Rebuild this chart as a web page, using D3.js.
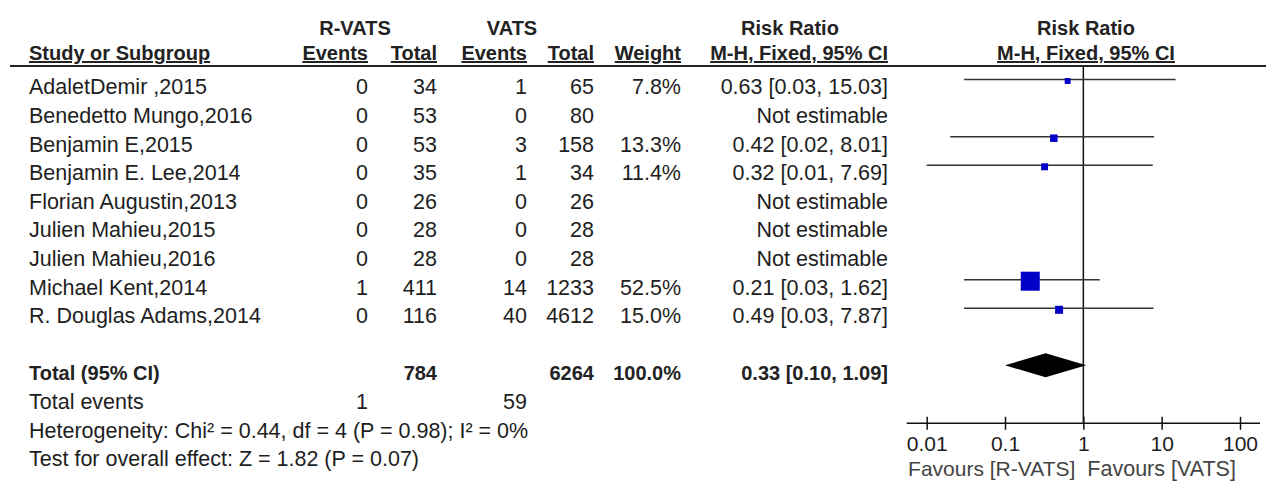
<!DOCTYPE html>
<meta charset="utf-8">
<style>
    body { margin: 0; background: #fff; }
    text {
        font-family: "Liberation Sans", Arial, sans-serif;
        font-size: 21.5px;
        fill: #1e1e1e;
    }
    .bold { font-weight: bold; font-size: 20px; fill: #222; }
    .ul { text-decoration: underline; }
</style>

<svg width="1266" height="481"></svg>

<script src="https://cdn.jsdelivr.net/npm/d3@7"></script>
<script>

    // DATA

    var studies = ["AdaletDemir ,2015", "Benedetto Mungo,2016", "Benjamin E,2015",
        "Benjamin E. Lee,2014", "Florian Augustin,2013", "Julien Mahieu,2015",
        "Julien Mahieu,2016", "Michael Kent,2014", "R. Douglas Adams,2014"];
    var rEvents = [0, 0, 0, 0, 0, 0, 0, 1, 0];
    var rTotal = [34, 53, 53, 35, 26, 28, 28, 411, 116];
    var vEvents = [1, 0, 3, 1, 0, 0, 0, 14, 40];
    var vTotal = [65, 80, 158, 34, 26, 28, 28, 1233, 4612];
    var weights = [7.8, null, 13.3, 11.4, null, null, null, 52.5, 15.0];
    var rr = [0.63, null, 0.42, 0.32, null, null, null, 0.21, 0.49];
    var ciLow = [0.03, null, 0.02, 0.01, null, null, null, 0.03, 0.03];
    var ciHigh = [15.03, null, 8.01, 7.69, null, null, null, 1.62, 7.87];

    var total = { rTotal: 784, vTotal: 6264, weight: 100.0, rr: 0.33, lo: 0.10, hi: 1.09,
        rEvents: 1, vEvents: 59 };
    var tickValues = [0.01, 0.1, 1, 10, 100];
    var tickLabels = ["0.01", "0.1", "1", "10", "100"];

    // SETUP

    var svg = d3.select("svg");
    var rowH = 28.6,
        firstBase = 94.3;

    function base(i) { return firstBase + i * rowH; }

    var col = { name: 29, rEv: 368, rTot: 437, vEv: 527, vTot: 594, weight: 681, ci: 888 };

    var x = d3.scaleLog().domain([0.01, 100]).range([926.7, 1240]);
    var side = d3.scaleLinear().domain([0, 52.5]).range([3.6, 19]);

    function txt(xp, yp, s, anchor, cls) {
        return svg.append("text")
            .attr("x", xp).attr("y", yp)
            .attr("text-anchor", anchor || "start")
            .attr("class", cls || null)
            .text(s);
    }

    // HEADER

    txt(355, 35, "R-VATS", "middle", "bold");
    txt(512, 35, "VATS", "middle", "bold");
    txt(790, 35, "Risk Ratio", "middle", "bold");
    txt(1086, 35, "Risk Ratio", "middle", "bold");

    var hy = 60;
    txt(col.name, hy, "Study or Subgroup", "start", "bold ul");
    txt(col.rEv, hy, "Events", "end", "bold ul");
    txt(col.rTot, hy, "Total", "end", "bold ul");
    txt(col.vEv, hy, "Events", "end", "bold ul");
    txt(col.vTot, hy, "Total", "end", "bold ul");
    txt(col.weight, hy, "Weight", "end", "bold ul");
    txt(col.ci, hy, "M-H, Fixed, 95% CI", "end", "bold ul");
    txt(1086, hy, "M-H, Fixed, 95% CI", "middle", "bold ul");

    svg.append("line")
        .attr("x1", 10).attr("x2", 1266)
        .attr("y1", 66).attr("y2", 66)
        .attr("stroke", "#222").attr("stroke-width", 2);

    // STUDY ROWS

    studies.forEach(function (s, i) {
        var y = base(i);
        txt(col.name, y, s);
        txt(col.rEv, y, rEvents[i], "end");
        txt(col.rTot, y, rTotal[i], "end");
        txt(col.vEv, y, vEvents[i], "end");
        txt(col.vTot, y, vTotal[i], "end");
        if (weights[i] != null) {
            txt(col.weight, y, weights[i].toFixed(1) + "%", "end");
            txt(col.ci, y, rr[i].toFixed(2) + " [" + ciLow[i].toFixed(2) + ", " + ciHigh[i].toFixed(2) + "]", "end");
        } else {
            txt(col.ci, y, "Not estimable", "end");
        }
    });

    // null line
    svg.append("line")
        .attr("x1", x(1)).attr("x2", x(1))
        .attr("y1", 66).attr("y2", 423.3)
        .attr("stroke", "#111").attr("stroke-width", 1.5);

    var est = studies.map(function (s, i) { return i; }).filter(function (i) { return rr[i] != null; });
    var ciOff = 14.8;

    svg.selectAll(".ci").data(est).enter().append("line")
        .attr("class", "ci")
        .attr("x1", function (i) { return x(ciLow[i]); })
        .attr("x2", function (i) { return x(ciHigh[i]); })
        .attr("y1", function (i) { return base(i) - ciOff; })
        .attr("y2", function (i) { return base(i) - ciOff; })
        .attr("stroke", "#333").attr("stroke-width", 1.6);

    svg.selectAll(".sq").data(est).enter().append("rect")
        .attr("class", "sq")
        .attr("x", function (i) { return x(rr[i]) - side(weights[i]) / 2; })
        .attr("y", function (i) { return base(i) - ciOff + 1.5 - side(weights[i]) / 2; })
        .attr("width", function (i) { return side(weights[i]); })
        .attr("height", function (i) { return side(weights[i]); })
        .attr("fill", "#0000c8");

    // TOTAL

    var ty = base(10);
    txt(col.name, ty, "Total (95% CI)", "start", "bold");
    txt(col.rTot, ty, total.rTotal, "end", "bold");
    txt(col.vTot, ty, total.vTotal, "end", "bold");
    txt(col.weight, ty, total.weight.toFixed(1) + "%", "end", "bold");
    txt(col.ci, ty, total.rr.toFixed(2) + " [" + total.lo.toFixed(2) + ", " + total.hi.toFixed(2) + "]", "end", "bold");

    var dy = ty - 15;
    svg.append("path")
        .attr("d", "M" + x(total.lo) + "," + dy +
            "L" + x(total.rr) + "," + (dy - 12) +
            "L" + x(total.hi) + "," + dy +
            "L" + x(total.rr) + "," + (dy + 12) + "Z")
        .attr("fill", "#000");

    txt(col.name, base(11), "Total events");
    txt(col.rEv, base(11), total.rEvents, "end");
    txt(col.vEv, base(11), total.vEvents, "end");
    txt(col.name, base(12), "Heterogeneity: Chi\u00b2 = 0.44, df = 4 (P = 0.98); I\u00b2 = 0%");
    txt(col.name, base(13), "Test for overall effect: Z = 1.82 (P = 0.07)");

    // AXIS

    var axisY = 423.3;
    var ax = svg.append("g")
        .attr("transform", "translate(0," + axisY + ")")
        .call(d3.axisBottom(x).tickValues(tickValues)
            .tickFormat(function (d, i) { return tickLabels[i]; })
            .tickSize(6).tickSizeOuter(0));
    ax.select(".domain").remove();
    ax.selectAll(".tick line").attr("y1", -6.5).attr("y2", 6.5)
        .attr("stroke", "#111").attr("stroke-width", 1.5);
    ax.selectAll(".tick text")
        .attr("y", 27.5).attr("dy", 0)
        .style("font-size", "21px")
        .style("font-family", "'Liberation Sans', Arial, sans-serif")
        .attr("fill", "#222");
    ax.insert("line", ":first-child")
        .attr("x1", x(0.01) - 20).attr("x2", x(100) + 20)
        .attr("stroke", "#111").attr("stroke-width", 1.5);

    txt(x(1) - 8, 476, "Favours [R-VATS]", "end").style("fill", "#444").style("font-size", "21px");
    txt(x(1) + 4, 476, "Favours [VATS]", "start").style("fill", "#444");

</script>
